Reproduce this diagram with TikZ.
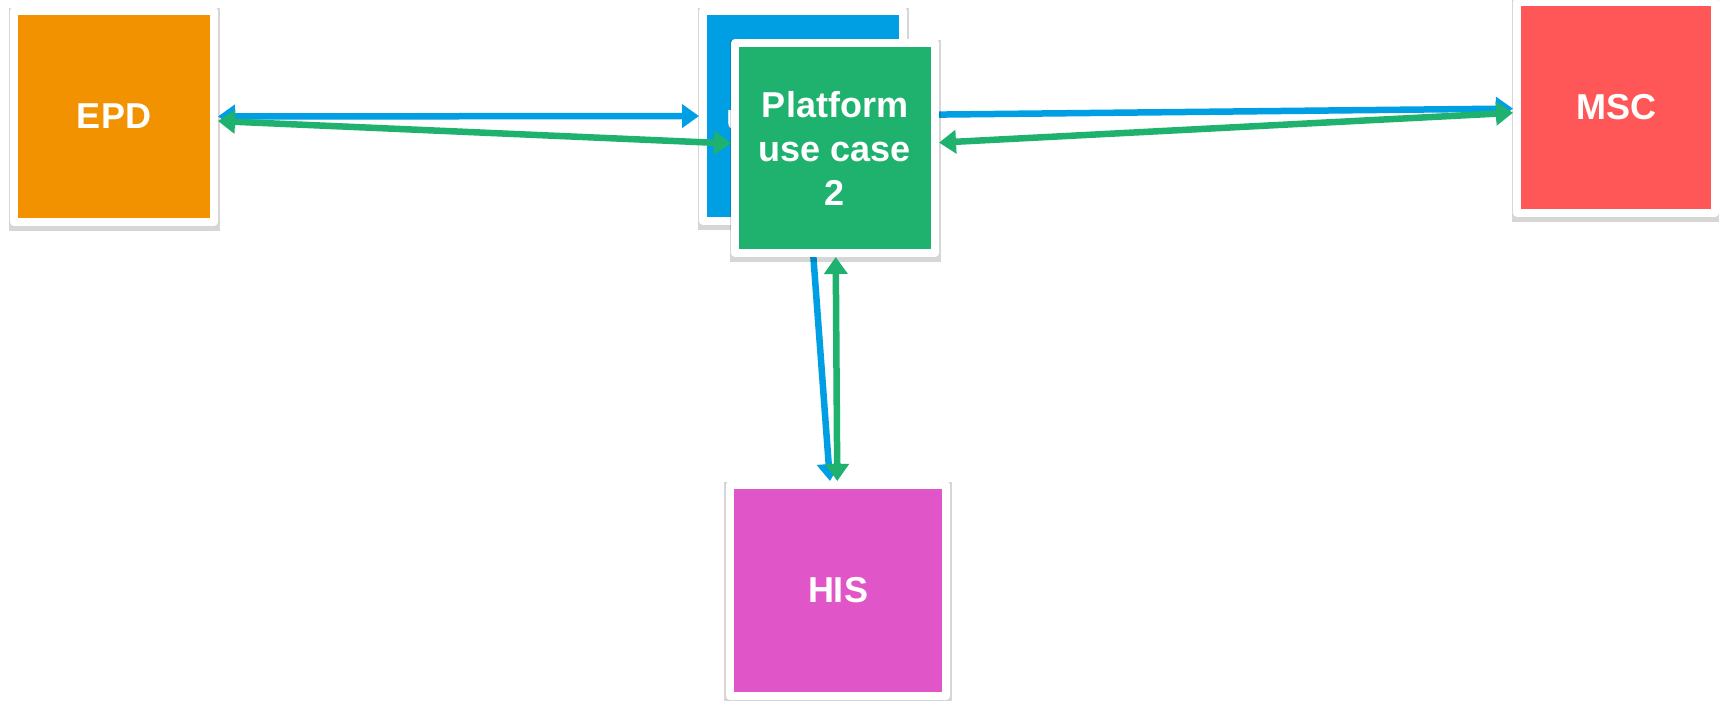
\documentclass[tikz,border=0pt]{standalone}
\usepackage{fontspec}
\setmainfont{Liberation Sans}
\usetikzlibrary{arrows.meta,shadows}
\definecolor{cOrange}{RGB}{243,146,0}
\definecolor{cBlue}{RGB}{0,159,227}
\definecolor{cGreen}{RGB}{30,178,110}
\definecolor{cRed}{RGB}{255,87,87}
\definecolor{cPink}{RGB}{224,85,200}
\tikzset{
  sysbox/.style={draw=white, line width=8pt, line join=round, inner sep=0pt,
    minimum width=200pt, minimum height=210pt, align=center, text=white,
    font=\bfseries\fontsize{36}{44}\selectfont,
    drop shadow={shadow xshift=0pt, shadow yshift=-3pt, shadow scale=1.055, opacity=0.16, fill=black, rounded corners=4pt}},
  link/.style={line width=6.5pt, {Triangle[length=17pt,width=23pt]}-{Triangle[length=17pt,width=23pt]}},
  bluelink/.style={link, draw=cBlue, fill=cBlue},
  greenlink/.style={link, draw=cGreen, fill=cGreen},
}
\begin{document}
\begin{tikzpicture}[x=1pt,y=-1pt]
\useasboundingbox (0,0) rectangle (1719,701);
\fill[white] (0,0) rectangle (1719,701);
\node[sysbox, fill=cOrange, minimum width=200pt, minimum height=211pt] (epd) at (114,116.5) {EPD};
\node[sysbox, fill=cRed, minimum width=198pt, minimum height=211pt] (msc) at (1616,107.5) {MSC};
\node[sysbox, fill=cPink, minimum width=216pt, minimum height=211pt] (his) at (838,590.5) {HIS};
\node[sysbox, fill=cBlue] (uc1) at (803,116) {Platform\\use case\\1};
\draw[bluelink] (epd) -- (uc1);
\draw[bluelink] (uc1) -- (msc);
\draw[bluelink] (uc1) -- (his);
\node[sysbox, fill=cGreen] (uc2) at (835,148) {Platform\\use case\\2};
\draw[greenlink] (epd) -- (uc2);
\draw[greenlink] (uc2) -- (msc);
\draw[greenlink] (uc2) -- (his);
\end{tikzpicture}
\end{document}
